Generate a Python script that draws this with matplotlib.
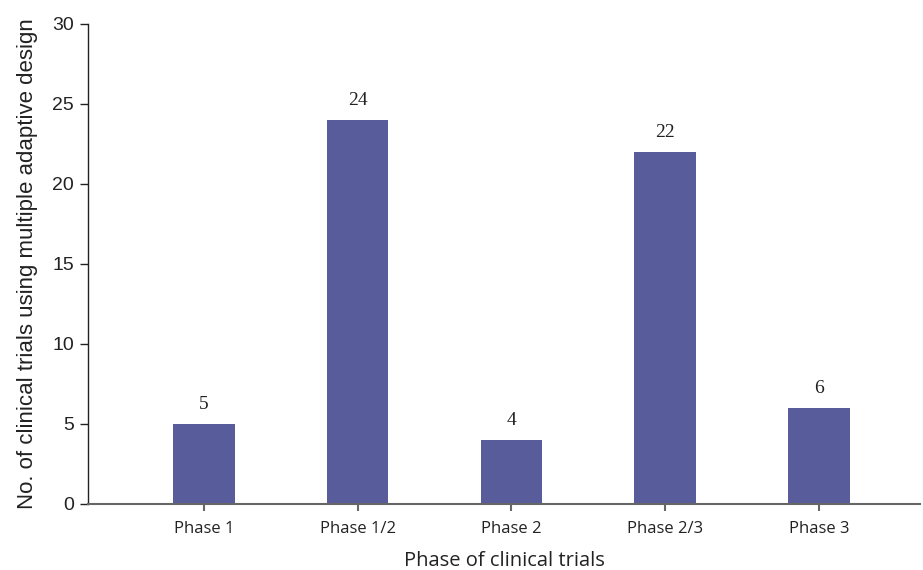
import matplotlib
matplotlib.use("Agg")
import matplotlib.pyplot as plt

phases = ["Phase 1", "Phase 1/2", "Phase 2", "Phase 2/3", "Phase 3"]
counts = [5, 24, 4, 22, 6]

bar_color = "#585c9b"

fig = plt.figure(figsize=(9.23, 5.70), dpi=100)
ax = fig.add_axes([0.0953, 0.1158, 0.9017, 0.8422])

x = list(range(len(phases)))
ax.bar(x, counts, width=0.4, color=bar_color, zorder=2)

for xi, v in zip(x, counts):
    ax.text(xi, v + 0.7, str(v), ha="center", va="bottom",
            fontsize=14, color="#222222", family="Liberation Serif")

ax.set_ylim(0, 30)
ax.set_xlim(-0.755, 4.66)
ax.set_yticks(range(0, 31, 5))
ax.set_xticks(x)
ax.set_xticklabels(phases, family="Open Sans", fontsize=12, color="#222222")
for lbl in ax.get_yticklabels():
    lbl.set_family("Liberation Sans")
    lbl.set_fontsize(14)
    lbl.set_color("#222222")

ax.spines["top"].set_visible(False)
ax.spines["right"].set_visible(False)
ax.spines["left"].set_color("#222222")
ax.spines["left"].set_linewidth(1.0)
ax.spines["bottom"].set_color("#666666")
ax.spines["bottom"].set_linewidth(1.5)

ax.tick_params(axis="y", length=6, width=1, color="#222222", pad=4)
ax.tick_params(axis="x", length=5, width=1.5, color="#666666", pad=7)

ax.set_ylabel("No. of clinical trials using multiple adaptive design",
              family="Liberation Sans", fontsize=16, color="#222222", labelpad=10)
ax.set_xlabel("Phase of clinical trials", family="Open Sans",
              fontsize=14.5, color="#222222", labelpad=10)

fig.savefig("out.png", dpi=100)
